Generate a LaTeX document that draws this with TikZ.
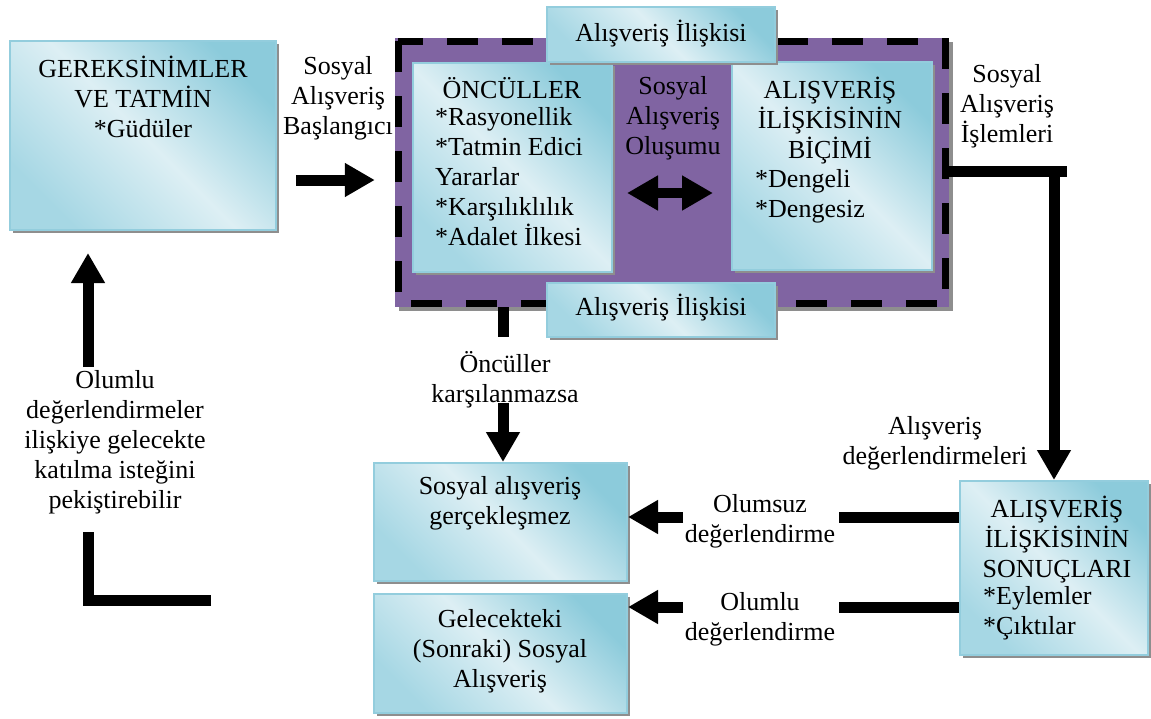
\documentclass[tikz,border=0pt]{standalone}
\usepackage{fontspec}
\setmainfont{Liberation Serif}
\usetikzlibrary{arrows.meta,shadows,calc}

\definecolor{boxdark}{HTML}{8CCBDB}
\definecolor{boxlight}{HTML}{DDEFF4}
\definecolor{boxlow}{HTML}{A6D7E4}
\definecolor{boxedge}{HTML}{93CDDD}
\definecolor{ringpurple}{HTML}{8064A2}
\definecolor{shadowgray}{HTML}{8E8E8E}

\begin{document}
\begin{tikzpicture}[x=1pt,y=-1pt,
  bluebox/.style={draw=boxedge, line width=2pt, top color=boxdark, bottom color=boxlow,
    middle color=boxlight, shading angle=-45, inner sep=0pt,
    drop shadow={shadow xshift=3pt, shadow yshift=-3pt, fill=shadowgray, opacity=1}},
  ringbox/.style={fill=ringpurple, inner sep=0pt,
    drop shadow={shadow xshift=3.5pt, shadow yshift=-3.5pt, fill=shadowgray, opacity=1}},
  dashborder/.style={draw=black, line width=7pt, line cap=butt, dash pattern=on 31pt off 24pt},
  conn/.style={draw=black, line width=11pt, line join=miter},
  bigarrow/.style={conn, -{Triangle[length=30pt, width=32pt]}},
  dblarrow/.style={draw=black, line width=10pt,
    {Triangle[length=31pt, width=33pt]}-{Triangle[length=31pt, width=33pt]}},
  txt/.style={font=\fontsize{26}{30}\selectfont, inner sep=0pt, align=center,
    execute at begin node=\strut, execute at end node=\strut},
  txtl/.style={txt, align=left}]

\useasboundingbox (0,0) rectangle (1151,718);

% central frame with dashed border
\node[ringbox, minimum width=554pt, minimum height=269pt] (ring) at (672,172.5) {};
\draw[dashborder] ($(ring.north west)+(3.5,3.5)$) rectangle ($(ring.south east)+(-3.5,-3.5)$);

% boxes
\node[bluebox, minimum width=199pt, minimum height=209pt] (oncul) at (512.5,167.5) {};
\node[bluebox, minimum width=200pt, minimum height=208pt] (bicim) at (832,166) {};
\node[bluebox, minimum width=228pt, minimum height=55pt] (relTop) at (661,34.5) {};
\node[bluebox, minimum width=228pt, minimum height=54pt] (relBot) at (661,310) {};
\node[bluebox, minimum width=266pt, minimum height=189pt] (need) at (143,135.5) {};
\node[bluebox, minimum width=188pt, minimum height=174pt] (sonuc) at (1054,568) {};
\node[bluebox, minimum width=253pt, minimum height=118pt] (gerc) at (500.5,522) {};
\node[bluebox, minimum width=253pt, minimum height=119pt] (gelecek) at (500.5,653.5) {};

% free ends of the broken connectors
\coordinate (c1) at (1067,171);
\coordinate (k1) at (503,337);
\coordinate (k2) at (503,403);
\coordinate (n1) at (839,517);
\coordinate (n2) at (683,517);
\coordinate (p1) at (839,607);
\coordinate (p2) at (683,607);
\coordinate (l1) at (211,600);
\coordinate (l2) at (88,532);
\coordinate (l3) at (88,367);

% connectors
\draw[bigarrow] ($(need.east)+(19,44.5)$) -- ($(ring.west)+(-20,7.5)$);
\draw[dblarrow] ($(oncul.east)+(14,25.5)$) -- ($(bicim.west)+(-18,27)$);
\draw[conn] ($(ring.east)+(0,-1.5)$) -- (c1);
\draw[bigarrow] (sonuc.north |- c1) -- (sonuc.north);
\draw[conn] (ring.south -| k1) -- (k1);
\draw[bigarrow] (k2) -- (gerc.north -| k2);
\draw[conn] (sonuc.west |- n1) -- (n1);
\draw[bigarrow] (n2) -- (gerc.east |- n2);
\draw[conn] (sonuc.west |- p1) -- (p1);
\draw[bigarrow] (p2) -- (gelecek.east |- p2);
\draw[conn] (l1) -| (l2);
\draw[bigarrow] (l3) -- ($(need.south -| l3)+(0,22)$);

% texts
\node[txt, anchor=north] (tNeed) at (143,56) {GEREKSİNİMLER\\VE TATMİN\\*Güdüler};
\node[txt, anchor=north] (tStart) at (338,56) {Sosyal\\Alışveriş\\Başlangıcı};
\node[txt, anchor=north] (tRelTop) at (661,20) {Alışveriş İlişkisi};
\node[txt, anchor=north] (tRelBot) at (661,294) {Alışveriş İlişkisi};
\node[txt, anchor=north] (tOncul) at (512,77) {ÖNCÜLLER};
\node[txtl, anchor=north west] (tOnculList) at (435,107) {*Rasyonellik\\*Tatmin Edici\\Yararlar\\*Karşılıklılık\\*Adalet İlkesi};
\node[txt, anchor=north] (tForm) at (673,76) {Sosyal\\Alışveriş\\Oluşumu};
\node[txt, anchor=north] (tBicim) at (830,77) {ALIŞVERİŞ\\İLİŞKİSİNİN\\BİÇİMİ};
\node[txtl, anchor=north west] (tBicimList) at (755,169) {*Dengeli\\*Dengesiz};
\node[txt, anchor=north] (tIslem) at (1007,64) {Sosyal\\Alışveriş\\İşlemleri};
\node[txt, anchor=north] (tDeger) at (935,416) {Alışveriş\\değerlendirmeleri};
\node[txt, anchor=north] (tKarsi) at (505,351) {Öncüller\\karşılanmazsa};
\node[txt, anchor=north] (tSonuc) at (1057,496) {ALIŞVERİŞ\\İLİŞKİSİNİN\\SONUÇLARI};
\node[txtl, anchor=north west] (tSonucList) at (983,586) {*Eylemler\\*Çıktılar};
\node[txt, anchor=north] (tGerc) at (500,476) {Sosyal alışveriş\\gerçekleşmez};
\node[txt, anchor=north] (tGelecek) at (500,609) {Gelecekteki\\(Sonraki) Sosyal\\Alışveriş};
\node[txt, anchor=north] (tOlumsuz) at (760,494) {Olumsuz\\değerlendirme};
\node[txt, anchor=north] (tOlumlu) at (760,592) {Olumlu\\değerlendirme};
\node[txt, anchor=north] (tLoop) at (115,370) {Olumlu\\değerlendirmeler\\ilişkiye gelecekte\\katılma isteğini\\pekiştirebilir};
\end{tikzpicture}
\end{document}
